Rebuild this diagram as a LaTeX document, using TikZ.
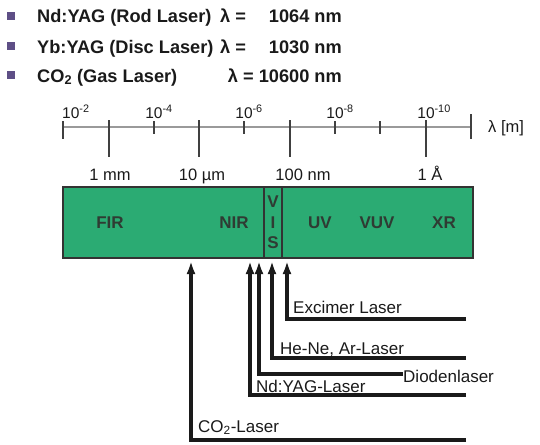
\documentclass[tikz,border=0pt]{standalone}
\usepackage{fontspec}
\setmainfont{Liberation Sans}
\usetikzlibrary{arrows.meta,positioning}
\definecolor{bandgreen}{HTML}{2BAB73}
\definecolor{bulletcolor}{HTML}{5E4F86}
\definecolor{ink}{HTML}{1A1A1A}
\definecolor{bandtext}{HTML}{2F3B33}
\definecolor{axisgray}{HTML}{9A9A9A}
\tikzset{
  headtext/.style={
    font=\fontsize{18.2}{20}\selectfont\bfseries,
    text=ink,
    inner sep=0pt
  },
  bulletbox/.style={
    fill=bulletcolor,
    minimum size=8pt,
    inner sep=0pt
  },
  specbar/.style={
    draw=black!80,
    line width=1.4pt,
    fill=bandgreen,
    minimum width=410pt,
    minimum height=71pt,
    inner sep=0pt
  },
  bandlabel/.style={
    font=\fontsize{17}{19}\selectfont\bfseries,
    text=bandtext,
    inner sep=0pt
  },
  powerlabel/.style={
    font=\fontsize{15.5}{17}\selectfont,
    text=ink,
    anchor=base,
    inner sep=0pt
  },
  scalelabel/.style={
    font=\fontsize{16.5}{18}\selectfont,
    text=ink,
    anchor=base,
    inner sep=0pt
  },
  lasertext/.style={
    font=\fontsize{17}{19}\selectfont,
    text=ink,
    anchor=base west,
    inner sep=0pt
  },
  laserarrow/.style={-{Latex[length=13pt,width=9pt]},line width=3.2pt,draw=ink},
  axisline/.style={draw=axisgray,line width=1.4pt},
  tickline/.style={draw=black!75,line width=1.4pt}
}
\begin{document}
\begin{tikzpicture}[x=1pt,y=-1pt]
  \useasboundingbox (0,0) rectangle (540,444);
  % header lines
  \node[bulletbox] (bone) at (11,16) {};
  \node[bulletbox] (btwo) at (11,46) {};
  \node[bulletbox] (bthree) at (11,75) {};
  \node[headtext, anchor=base west] (ndyag) at (37,23) {Nd:YAG (Rod Laser)};
  \node[headtext, anchor=base west] (ndlam) at (220,23) {λ =};
  \node[headtext, anchor=base east] (ndval) at (342,23) {1064 nm};
  \node[headtext, anchor=base west] (ybyag) at (37,53) {Yb:YAG (Disc Laser)};
  \node[headtext, anchor=base west] (yblam) at (220,53) {λ =};
  \node[headtext, anchor=base east] (ybval) at (342,53) {1030 nm};
  \node[headtext, anchor=base west] (cotwo) at (37,82) {CO\textsubscript{2} (Gas Laser)};
  \node[headtext, anchor=base east] (coval) at (342,82) {λ = 10600 nm};
  % wavelength axis
  \draw[axisline] (63,127) -- (471,127);
  \draw[tickline] (63,121) -- (63,139);
  \draw[tickline] (471,114) -- (471,139);
  \foreach \x in {154,244,335,380}
    \draw[tickline] (\x,121) -- (\x,134);
  \foreach \x in {109,199,290,426}
    \draw[tickline] (\x,120) -- (\x,157);
  \node[powerlabel, anchor=base west] (pmtwo) at (62,118) {10\textsuperscript{-2}};
  \node[powerlabel] (pmfour) at (154,118) {10\rlap{\textsuperscript{-4}}};
  \node[powerlabel] (pmsix) at (244,118) {10\rlap{\textsuperscript{-6}}};
  \node[powerlabel] (pmeight) at (335,118) {10\rlap{\textsuperscript{-8}}};
  \node[powerlabel] (pmten) at (426,118) {10\rlap{\textsuperscript{-10}}};
  \node[scalelabel, anchor=base west] (lamunit) at (488,132) {λ [m]};
  \node[scalelabel] (mm) at (110,180) {1 mm};
  \node[scalelabel] (um) at (202,180) {10 µm};
  \node[scalelabel] (nm) at (303,180) {100 nm};
  \node[scalelabel] (ang) at (430,180) {1 Å};
  % spectrum bar
  \node[specbar] (bar) at (268,222.5) {};
  \draw[draw=black!80, line width=1.4pt] (264,187) -- (264,258);
  \draw[draw=black!80, line width=1.4pt] (282,187) -- (282,258);
  \node[bandlabel] (fir) at (110,223) {FIR};
  \node[bandlabel] (nir) at (234,223) {NIR};
  \node[bandlabel] (visv) at (273,202) {V};
  \node[bandlabel] (visi) at (273,223) {I};
  \node[bandlabel] (viss) at (273,243) {S};
  \node[bandlabel] (uv) at (320,223) {UV};
  \node[bandlabel] (vuv) at (377,223) {VUV};
  \node[bandlabel] (xr) at (444,223) {XR};
  % laser lines
  \coordinate (exctip) at (287,261);
  \coordinate (hetip) at (272,261);
  \coordinate (diodetip) at (259,261);
  \coordinate (ndtip) at (250,261);
  \coordinate (cotip) at (191,261);
  \coordinate (excend) at (466,319);
  \coordinate (heend) at (466,358);
  \coordinate (ndend) at (466,395);
  \coordinate (coend) at (466,440);
  \node[lasertext] (exc) at (293,313) {Excimer Laser};
  \node[lasertext] (hene) at (280,354) {He-Ne, Ar-Laser};
  \node[lasertext] (diode) at (403,382) {Diodenlaser};
  \node[lasertext] (ndlaser) at (256,392) {Nd:YAG-Laser};
  \node[lasertext] (colaser) at (198,432) {CO\textsubscript{2}-Laser};
  \draw[laserarrow] (excend) -| (exctip);
  \draw[laserarrow] (heend) -| (hetip);
  \draw[laserarrow] ([yshift=2pt]diode.west) -| (diodetip);
  \draw[laserarrow] (ndend) -| (ndtip);
  \draw[laserarrow] (coend) -| (cotip);
\end{tikzpicture}
\end{document}
